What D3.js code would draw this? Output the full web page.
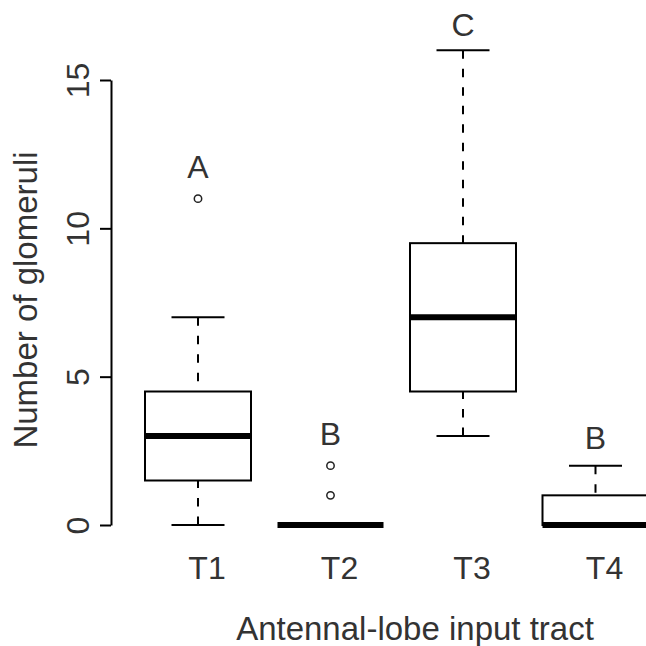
<!DOCTYPE html>
<html>
<head>
<meta charset="utf-8">
<script src="https://cdn.jsdelivr.net/npm/d3@7"></script>
<style>
  html, body { margin: 0; padding: 0; background: #fff; }
  svg { display: block; }
  text { font-family: "Liberation Sans", Arial, Helvetica, sans-serif; fill: #333; }
</style>
</head>
<body>
<script>
// ---- data ----
const categories  = ["T1", "T2", "T3", "T4"];
const whiskerLow  = [0, 0, 3, 0];
const q1          = [1.5, 0, 4.5, 0];
const median      = [3, 0, 7, 0];
const q3          = [4.5, 0, 9.5, 1];
const whiskerHigh = [7, 0, 16, 2];
const outliers    = [[11], [1, 2], [], []];
const groupLetters = ["A", "B", "C", "B"];
const letterY      = [11.7, 2.7, 16.5, 2.55];
const yTicks       = [0, 5, 10, 15];
const xTitle = "Antennal-lobe input tract";
const yTitle = "Number of glomeruli";

// ---- layout ----
const W = 646, H = 646;
const svg = d3.select("body").append("svg").attr("width", W).attr("height", H);

const x = d3.scaleLinear().domain([0.5, 4.5]).range([131.75, 661.75]);
const y = d3.scaleLinear().domain([0, 15]).range([525, 80]);
const boxHalf = 0.4, capHalf = 0.2;
const fs = 32;

const data = categories.map((c, i) => ({
  c, i, pos: i + 1,
  lo: whiskerLow[i], q1: q1[i], med: median[i], q3: q3[i], hi: whiskerHigh[i],
  out: outliers[i], letter: groupLetters[i], ly: letterY[i]
}));

const g = svg.append("g");

// whiskers (dashed), drawn from whisker end toward box
g.selectAll(".wh-up").data(data).join("line")
  .attr("x1", d => x(d.pos)).attr("x2", d => x(d.pos))
  .attr("y1", d => y(d.hi)).attr("y2", d => y(d.q3))
  .attr("stroke", "#000").attr("stroke-width", 2).attr("stroke-dasharray", "8.5,10");
g.selectAll(".wh-dn").data(data).join("line")
  .attr("x1", d => x(d.pos)).attr("x2", d => x(d.pos))
  .attr("y1", d => y(d.lo)).attr("y2", d => y(d.q1))
  .attr("stroke", "#000").attr("stroke-width", 2).attr("stroke-dasharray", "8.5,10");

// caps
["hi", "lo"].forEach(k => {
  g.selectAll(".cap-" + k).data(data).join("line")
    .attr("x1", d => x(d.pos - capHalf)).attr("x2", d => x(d.pos + capHalf))
    .attr("y1", d => y(d[k])).attr("y2", d => y(d[k]))
    .attr("stroke", "#000").attr("stroke-width", 2);
});

// boxes
g.selectAll(".box").data(data).join("rect")
  .attr("x", d => x(d.pos - boxHalf))
  .attr("width", d => x(d.pos + boxHalf) - x(d.pos - boxHalf))
  .attr("y", d => y(d.q3))
  .attr("height", d => y(d.q1) - y(d.q3))
  .attr("fill", "#fff").attr("stroke", "#000").attr("stroke-width", 2);

// medians
g.selectAll(".med").data(data).join("line")
  .attr("x1", d => x(d.pos - boxHalf)).attr("x2", d => x(d.pos + boxHalf))
  .attr("y1", d => y(d.med)).attr("y2", d => y(d.med))
  .attr("stroke", "#000").attr("stroke-width", 6);

// outliers
const outPts = data.flatMap(d => d.out.map(v => ({ pos: d.pos, v })));
g.selectAll(".out").data(outPts).join("circle")
  .attr("cx", d => x(d.pos)).attr("cy", d => y(d.v)).attr("r", 3.7)
  .attr("fill", "none").attr("stroke", "#222").attr("stroke-width", 1.5);

// group letters
g.selectAll(".letter").data(data).join("text")
  .attr("x", d => x(d.pos)).attr("y", d => y(d.ly))
  .attr("text-anchor", "middle").attr("font-size", fs)
  .text(d => d.letter);

// x tick labels (no axis line in reference)
g.selectAll(".xt").data(data).join("text")
  .attr("x", d => x(d.pos) + 9).attr("y", 579)
  .attr("text-anchor", "middle").attr("font-size", fs)
  .text(d => d.c);

// y axis
const yAxis = d3.axisLeft(y).tickValues(yTicks).tickSize(11).tickSizeOuter(0).tickFormat(d3.format("d"));
const ya = svg.append("g").attr("transform", "translate(111,0)").call(yAxis);
ya.select(".domain").attr("stroke", "#000").attr("stroke-width", 2);
ya.selectAll(".tick line").attr("stroke", "#000").attr("stroke-width", 2);
ya.selectAll(".tick text")
  .attr("x", 0).attr("dy", null).attr("y", 0)
  .attr("transform", "translate(-22,0) rotate(-90)")
  .attr("text-anchor", "middle")
  .attr("font-size", fs)
  .attr("font-family", "Liberation Sans, Arial, sans-serif")
  .attr("fill", "#333");

// titles
svg.append("text")
  .attr("x", 415).attr("y", 640)
  .attr("text-anchor", "middle").attr("font-size", 33)
  .text(xTitle);
svg.append("text")
  .attr("transform", "translate(37,300) rotate(-90)")
  .attr("text-anchor", "middle").attr("font-size", 33)
  .text(yTitle);
</script>
</body>
</html>
